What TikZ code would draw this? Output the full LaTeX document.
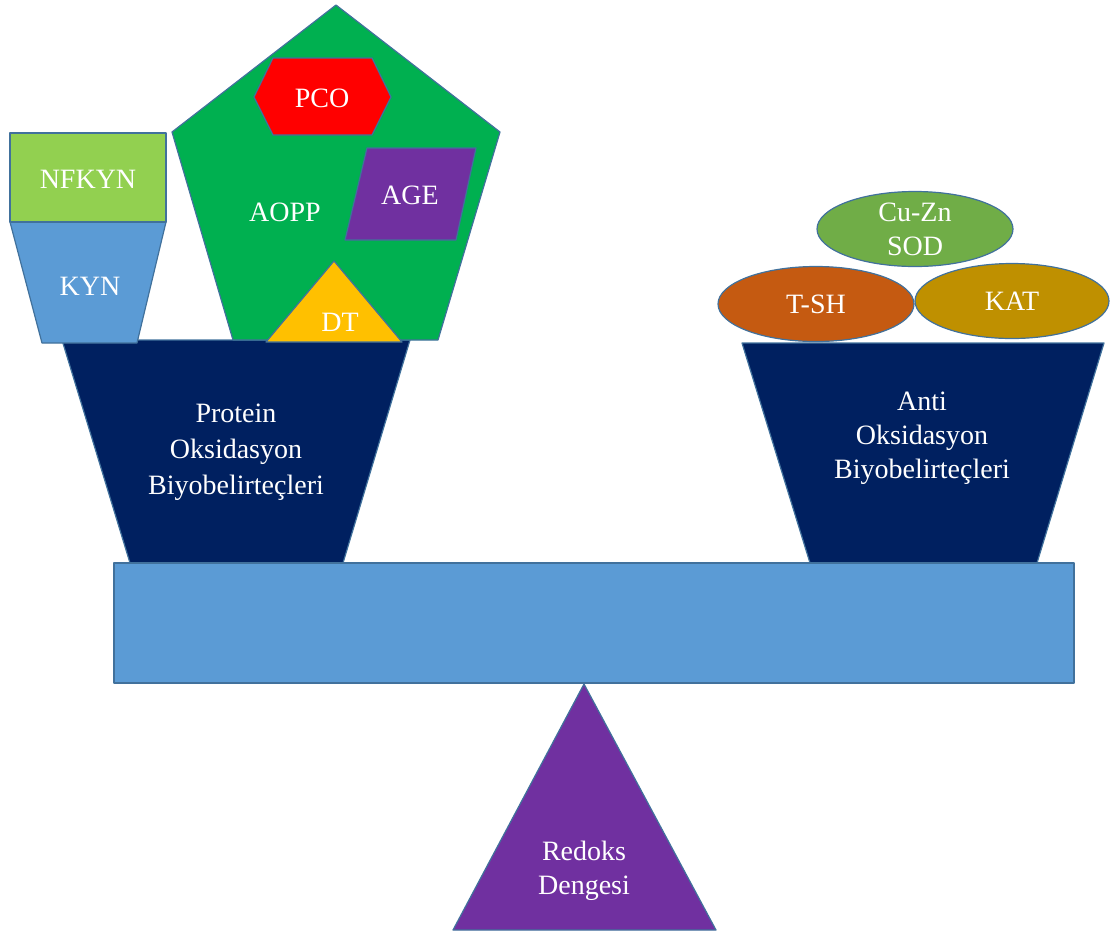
\documentclass[tikz,border=0pt]{standalone}
\usepackage{fontspec}
\setmainfont{Liberation Serif}
\usepackage{tikz}
\usetikzlibrary{shapes.geometric}
\definecolor{cEdge}{HTML}{41719C}
\definecolor{cBeam}{HTML}{5B9BD5}
\definecolor{cLime}{HTML}{92D050}
\definecolor{cGreen}{HTML}{00B050}
\definecolor{cRed}{HTML}{FF0000}
\definecolor{cPurple}{HTML}{7030A0}
\definecolor{cGold}{HTML}{FFC000}
\definecolor{cNavy}{HTML}{002060}
\definecolor{cSod}{HTML}{70AD47}
\definecolor{cTsh}{HTML}{C55A11}
\definecolor{cKat}{HTML}{BF9000}

\begin{document}
\begin{tikzpicture}[
    x=1pt, y=-1pt,
    font=\fontsize{28}{36}\selectfont,
    shp/.style={draw=cEdge, line width=1.2pt, line join=round},
    lbl/.style={text=white, align=center, inner sep=0pt},
    oval/.style={shp, ellipse, inner sep=0pt, text=white, align=center, minimum width=196pt, minimum height=75pt}
]
\useasboundingbox (0,0) rectangle (1110,938);

% left pan
\filldraw[shp, fill=cNavy] (62,340) -- (410,340) -- (343,563) -- (130,563) -- cycle;
\node[lbl] (protein) at (236,452) {Protein\\Oksidasyon\\Biyobelirteçleri};

\filldraw[shp, fill=cBeam] (10,222) -- (166,222) -- (137,343) -- (42,343) -- cycle;
\node[lbl] (kyn) at (90,286) {KYN};
\filldraw[shp, fill=cLime] (10,133) rectangle (166,222);
\node[lbl] (nfkyn) at (88,179) {NFKYN};

\filldraw[shp, fill=cGreen] (336,5) -- (500,132) -- (438,340) -- (233,340) -- (172,132) -- cycle;
\node[lbl] (aopp) at (285,212) {AOPP};
\filldraw[shp, fill=cRed] (254,97) -- (273,58) -- (372,58) -- (391,97) -- (372,135) -- (273,135) -- cycle;
\node[lbl] (pco) at (322,98) {PCO};
\filldraw[shp, fill=cPurple] (367,148) -- (476,148) -- (456,240) -- (345,240) -- cycle;
\node[lbl] (age) at (410,195) {AGE};
\filldraw[shp, fill=cGold] (334,261) -- (402,342) -- (266,342) -- cycle;
\node[lbl] (dt) at (340,322) {DT};

% right pan
\filldraw[shp, fill=cNavy] (742,343) -- (1104,343) -- (1037,563) -- (810,563) -- cycle;
\node[lbl, font=\fontsize{28}{34}\selectfont] (anti) at (922,438) {Anti\\Oksidasyon\\Biyobelirteçleri};

\node[oval, fill=cSod, font=\fontsize{28}{34}\selectfont] (sod) at (915,229) {Cu-Zn\\SOD};
\node[oval, fill=cTsh] (tsh) at (816,304) {T-SH};
\node[oval, fill=cKat, minimum width=194pt] (kat) at (1012,301) {KAT};

% beam and fulcrum
\filldraw[shp, fill=cBeam] (114,563) rectangle (1074,683);
\filldraw[shp, fill=cPurple] (584,684) -- (716,930) -- (453,930) -- cycle;
\node[lbl, font=\fontsize{28}{34}\selectfont] (redoks) at (584,871) {Redoks\\Dengesi};
\end{tikzpicture}
\end{document}
